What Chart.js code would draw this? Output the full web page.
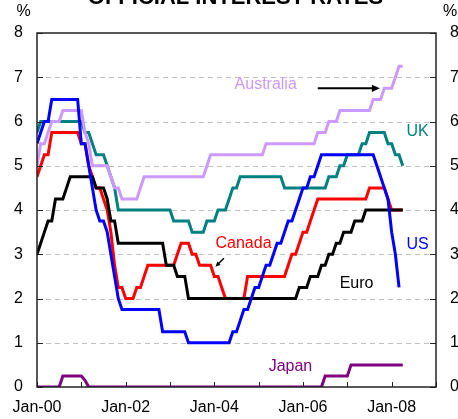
<!DOCTYPE html>
<html>
<head>
<meta charset="utf-8">
<script src="https://cdn.jsdelivr.net/npm/chart.js@4"></script>
<style>
  html, body { margin: 0; padding: 0; background: #fff; }
  #wrap { position: relative; width: 458px; height: 419px; }
</style>
</head>
<body>
<div id="wrap"><canvas id="c" width="458" height="419"></canvas></div>
<script>
// ---- Data: monthly values, Jan-2000 (index 0) to Apr-2008 (index 99) ----
const australia = [
  5.0,5.5,5.5,5.75,6.0,6.0,6.0,6.25,6.25,6.25,6.25,6.25,
  6.25,5.75,5.5,5.0,5.0,5.0,5.0,5.0,4.75,4.5,4.5,4.25,
  4.25,4.25,4.25,4.25,4.5,4.75,4.75,4.75,4.75,4.75,4.75,4.75,
  4.75,4.75,4.75,4.75,4.75,4.75,4.75,4.75,4.75,4.75,5.0,5.25,
  5.25,5.25,5.25,5.25,5.25,5.25,5.25,5.25,5.25,5.25,5.25,5.25,
  5.25,5.25,5.5,5.5,5.5,5.5,5.5,5.5,5.5,5.5,5.5,5.5,
  5.5,5.5,5.5,5.5,5.75,5.75,5.75,6.0,6.0,6.0,6.25,6.25,
  6.25,6.25,6.25,6.25,6.25,6.25,6.25,6.5,6.5,6.5,6.75,6.75,
  6.75,7.0,7.25,7.25
];
const uk = [
  5.75,6.0,6.0,6.0,6.0,6.0,6.0,6.0,6.0,6.0,6.0,6.0,
  6.0,5.75,5.75,5.5,5.25,5.25,5.25,5.0,4.75,4.5,4.0,4.0,
  4.0,4.0,4.0,4.0,4.0,4.0,4.0,4.0,4.0,4.0,4.0,4.0,
  4.0,3.75,3.75,3.75,3.75,3.75,3.5,3.5,3.5,3.5,3.75,3.75,
  3.75,4.0,4.0,4.0,4.25,4.5,4.5,4.75,4.75,4.75,4.75,4.75,
  4.75,4.75,4.75,4.75,4.75,4.75,4.75,4.5,4.5,4.5,4.5,4.5,
  4.5,4.5,4.5,4.5,4.5,4.5,4.5,4.75,4.75,4.75,5.0,5.0,
  5.25,5.25,5.25,5.25,5.5,5.5,5.75,5.75,5.75,5.75,5.75,5.5,
  5.5,5.25,5.25,5.0
];
const us = [
  5.5,5.75,6.0,6.0,6.5,6.5,6.5,6.5,6.5,6.5,6.5,6.5,
  5.5,5.5,5.0,4.5,4.0,3.75,3.75,3.5,3.0,2.5,2.0,1.75,
  1.75,1.75,1.75,1.75,1.75,1.75,1.75,1.75,1.75,1.75,1.25,1.25,
  1.25,1.25,1.25,1.25,1.25,1.0,1.0,1.0,1.0,1.0,1.0,1.0,
  1.0,1.0,1.0,1.0,1.0,1.25,1.25,1.5,1.75,1.75,2.0,2.25,
  2.25,2.5,2.75,2.75,3.0,3.25,3.25,3.5,3.75,3.75,4.0,4.25,
  4.5,4.5,4.75,4.75,5.0,5.25,5.25,5.25,5.25,5.25,5.25,5.25,
  5.25,5.25,5.25,5.25,5.25,5.25,5.25,5.25,5.0,4.75,4.5,4.25,
  3.5,3.0,2.25,null
];
const canada = [
  4.75,5.0,5.25,5.25,5.75,5.75,5.75,5.75,5.75,5.75,5.75,5.75,
  5.5,5.5,5.0,4.75,4.5,4.5,4.25,4.0,3.5,2.75,2.25,2.25,
  2.0,2.0,2.0,2.25,2.25,2.5,2.75,2.75,2.75,2.75,2.75,2.75,
  2.75,2.75,3.0,3.25,3.25,3.25,3.0,3.0,2.75,2.75,2.75,2.75,
  2.5,2.5,2.25,2.0,2.0,2.0,2.0,2.0,2.0,2.5,2.5,2.5,
  2.5,2.5,2.5,2.5,2.5,2.5,2.5,2.5,2.75,3.0,3.0,3.25,
  3.5,3.5,3.75,4.0,4.25,4.25,4.25,4.25,4.25,4.25,4.25,4.25,
  4.25,4.25,4.25,4.25,4.25,4.25,4.5,4.5,4.5,4.5,4.5,4.25,
  4.0,4.0,4.0,4.0
];
const euro = [
  3.0,3.25,3.5,3.75,3.75,4.25,4.25,4.25,4.5,4.75,4.75,4.75,
  4.75,4.75,4.75,4.75,4.5,4.5,4.5,4.25,3.75,3.75,3.25,3.25,
  3.25,3.25,3.25,3.25,3.25,3.25,3.25,3.25,3.25,3.25,3.25,2.75,
  2.75,2.75,2.5,2.5,2.5,2.0,2.0,2.0,2.0,2.0,2.0,2.0,
  2.0,2.0,2.0,2.0,2.0,2.0,2.0,2.0,2.0,2.0,2.0,2.0,
  2.0,2.0,2.0,2.0,2.0,2.0,2.0,2.0,2.0,2.0,2.0,2.25,
  2.25,2.25,2.5,2.5,2.5,2.75,2.75,3.0,3.0,3.25,3.25,3.5,
  3.5,3.5,3.75,3.75,3.75,4.0,4.0,4.0,4.0,4.0,4.0,4.0,
  4.0,4.0,4.0,4.0
];
const japan = [
  0,0,0,0,0,0,0,0.25,0.25,0.25,0.25,0.25,
  0.25,0.15,0,0,0,0,0,0,0,0,0,0,
  0,0,0,0,0,0,0,0,0,0,0,0,
  0,0,0,0,0,0,0,0,0,0,0,0,
  0,0,0,0,0,0,0,0,0,0,0,0,
  0,0,0,0,0,0,0,0,0,0,0,0,
  0,0,0,0,0,0,0.25,0.25,0.25,0.25,0.25,0.25,
  0.25,0.5,0.5,0.5,0.5,0.5,0.5,0.5,0.5,0.5,0.5,0.5,
  0.5,0.5,0.5,0.5
];
const xTickValues = [0,12,24,36,48,60,72,84,96,108];
const xTickLabels = ['Jan-00','','Jan-02','','Jan-04','','Jan-06','','Jan-08',''];
const yTickValues = [0,1,2,3,4,5,6,7,8];
const title = 'OFFICIAL INTEREST RATES';

// ---- Styling / annotation placement (data-space anchors) ----
const FONT = '"Liberation Sans", Arial, Helvetica, sans-serif';
const seriesDefs = [
  { name: 'US',        values: us,        color: '#0000ff' },
  { name: 'Euro',      values: euro,      color: '#000000' },
  { name: 'Canada',    values: canada,    color: '#ff0000' },
  { name: 'Australia', values: australia, color: '#cc99ff' },
  { name: 'UK',        values: uk,        color: '#008080' },
  { name: 'Japan',     values: japan,     color: '#800080' }
];
const seriesLabels = [
  { text: 'Australia', x: 61.9,  y: 6.84, color: '#cc99ff' },
  { text: 'UK',        x: 103.0, y: 5.77, color: '#008080' },
  { text: 'US',        x: 103.0, y: 3.21, color: '#0000ff' },
  { text: 'Canada',    x: 55.9,  y: 3.23, color: '#ff0000' },
  { text: 'Euro',      x: 86.5,  y: 2.34, color: '#000000' },
  { text: 'Japan',     x: 68.6,  y: 0.45, color: '#800080' }
];
const arrows = [
  { from: [76.0, 6.75], to: [92.8, 6.75], width: 2, head: 8 },
  { from: [50.6, 2.91], to: [48.3, 2.72], width: 1.5, head: 5 }
];

function drawArrow(ctx, x1, y1, x2, y2, w, head) {
  const ang = Math.atan2(y2 - y1, x2 - x1);
  ctx.save();
  ctx.strokeStyle = '#000'; ctx.fillStyle = '#000'; ctx.lineWidth = w;
  ctx.beginPath();
  ctx.moveTo(x1, y1);
  ctx.lineTo(x2 - Math.cos(ang) * head * 0.8, y2 - Math.sin(ang) * head * 0.8);
  ctx.stroke();
  ctx.beginPath();
  ctx.moveTo(x2, y2);
  ctx.lineTo(x2 - head * Math.cos(ang) + (head * 0.45) * Math.sin(ang),
             y2 - head * Math.sin(ang) - (head * 0.45) * Math.cos(ang));
  ctx.lineTo(x2 - head * Math.cos(ang) - (head * 0.45) * Math.sin(ang),
             y2 - head * Math.sin(ang) + (head * 0.45) * Math.cos(ang));
  ctx.closePath();
  ctx.fill();
  ctx.restore();
}

const decor = {
  id: 'decor',
  beforeDatasetsDraw(chart) {
    const { ctx, chartArea: a, scales: { y } } = chart;
    ctx.save();
    ctx.strokeStyle = '#c0c0c0';
    ctx.lineWidth = 1;
    ctx.setLineDash([5, 4]);
    yTickValues.forEach(v => {
      if (v <= 0 || v >= 8) return;
      const py = Math.round(y.getPixelForValue(v)) + 0.5;
      ctx.beginPath(); ctx.moveTo(a.left, py); ctx.lineTo(a.right, py); ctx.stroke();
    });
    ctx.restore();
  },
  afterDatasetsDraw(chart) {
    const { ctx, chartArea: a, scales: { x, y } } = chart;
    ctx.save();
    // frame
    ctx.strokeStyle = '#222';
    ctx.lineWidth = 1.5;
    ctx.strokeRect(a.left, a.top, a.right - a.left, a.bottom - a.top);
    // inward ticks
    ctx.lineWidth = 1;
    ctx.beginPath();
    yTickValues.forEach(v => {
      const py = Math.round(y.getPixelForValue(v)) + 0.5;
      ctx.moveTo(a.left, py); ctx.lineTo(a.left + 6, py);
      ctx.moveTo(a.right - 6, py); ctx.lineTo(a.right, py);
    });
    xTickValues.forEach(v => {
      const px = Math.round(x.getPixelForValue(v)) + 0.5;
      ctx.moveTo(px, a.bottom); ctx.lineTo(px, a.bottom - 5);
    });
    ctx.stroke();
    // series labels
    ctx.font = '16px ' + FONT;
    ctx.textAlign = 'center';
    ctx.textBaseline = 'middle';
    seriesLabels.forEach(l => {
      ctx.fillStyle = l.color;
      ctx.fillText(l.text, x.getPixelForValue(l.x), y.getPixelForValue(l.y));
    });
    arrows.forEach(ar => {
      drawArrow(ctx, x.getPixelForValue(ar.from[0]), y.getPixelForValue(ar.from[1]),
                x.getPixelForValue(ar.to[0]), y.getPixelForValue(ar.to[1]), ar.width, ar.head);
    });
    // % unit labels
    ctx.fillStyle = '#000';
    ctx.font = '16px ' + FONT;
    ctx.fillText('%', 23.5, 11.5);
    ctx.fillText('%', 450, 11.5);
    // title (cut off at top in the reference)
    ctx.font = 'bold 22px ' + FONT;
    ctx.textBaseline = 'alphabetic';
    ctx.fillText(title, (a.left + a.right) / 2 - 1, 3.5);
    ctx.restore();
  }
};

const tickFont = { family: FONT, size: 16 };
new Chart(document.getElementById('c'), {
  type: 'line',
  data: {
    datasets: seriesDefs.map(s => ({
      label: s.name,
      data: s.values.map((v, i) => ({ x: i, y: v })),
      borderColor: s.color,
      backgroundColor: s.color,
      borderWidth: 3,
      pointRadius: 0,
      tension: 0,
      fill: false,
      spanGaps: false
    }))
  },
  options: {
    responsive: false,
    animation: false,
    events: [],
    layout: { padding: { top: 33, left: 0, right: 0, bottom: 0 } },
    plugins: { legend: { display: false }, tooltip: { enabled: false }, title: { display: false } },
    scales: {
      x: {
        type: 'linear', min: 0, max: 108, position: 'bottom',
        grid: { display: false, drawTicks: false },
        border: { display: false },
        afterBuildTicks: s => { s.ticks = xTickValues.map(v => ({ value: v })); },
        afterFit: s => { s.height = 32; },
        ticks: {
          autoSkip: false, maxRotation: 0, minRotation: 0, padding: 11,
          color: '#000', font: tickFont,
          callback: (v) => xTickLabels[xTickValues.indexOf(v)] || ''
        }
      },
      y: {
        type: 'linear', min: 0, max: 8, position: 'left',
        grid: { display: false, drawTicks: false },
        border: { display: false },
        afterBuildTicks: s => { s.ticks = yTickValues.map(v => ({ value: v })); },
        afterFit: s => { s.width = 37; },
        ticks: { padding: 14, color: '#000', font: tickFont, callback: v => String(v) }
      },
      y2: {
        type: 'linear', min: 0, max: 8, position: 'right',
        grid: { display: false, drawTicks: false },
        border: { display: false },
        afterBuildTicks: s => { s.ticks = yTickValues.map(v => ({ value: v })); },
        afterFit: s => { s.width = 22; },
        ticks: { padding: 14, color: '#000', font: tickFont, callback: v => String(v) }
      }
    }
  },
  plugins: [decor]
});
</script>
</body>
</html>
